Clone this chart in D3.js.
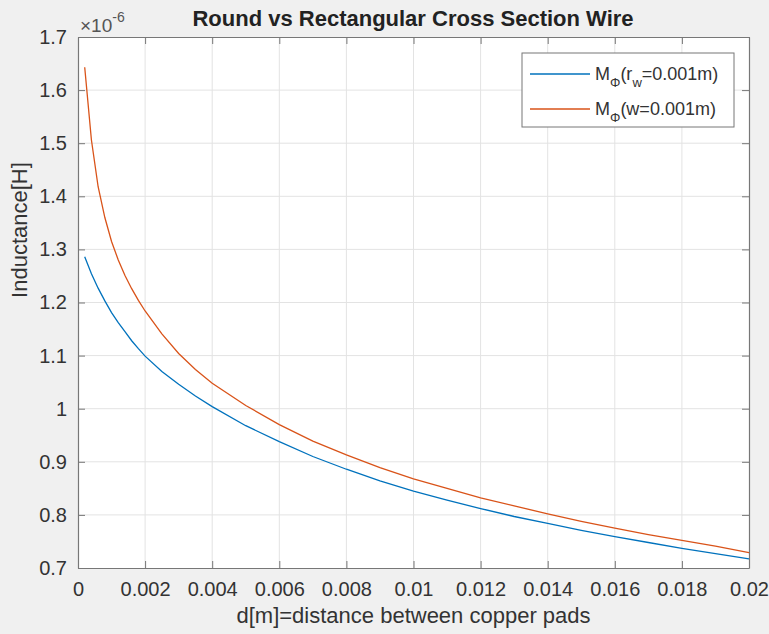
<!DOCTYPE html>
<head>
    <meta charset="utf-8">
    <title>Round vs Rectangular Cross Section Wire</title>
    <script src="https://d3js.org/d3.v7.min.js"></script>
</head>
<body style="margin:0">
    <svg class="chart" width="769" height="634"></svg>
</body>
<script>
// distance between pads [m]
var dist = [0.0002, 0.0004, 0.0006, 0.0008, 0.001, 0.0012, 0.0014, 0.0016, 0.0018, 0.002,
            0.0025, 0.003, 0.0035, 0.004, 0.005, 0.006, 0.007, 0.008, 0.009, 0.01,
            0.011, 0.012, 0.013, 0.014, 0.015, 0.016, 0.017, 0.018, 0.019, 0.02];
// inductance, units of 1e-6 H
var roundWire = [1.286, 1.254, 1.227, 1.203, 1.181, 1.162, 1.145, 1.128, 1.113, 1.099,
                 1.070, 1.046, 1.024, 1.004, 0.968, 0.938, 0.910, 0.886, 0.864, 0.845,
                 0.828, 0.812, 0.797, 0.784, 0.771, 0.759, 0.748, 0.737, 0.727, 0.717];
var rectWire = [1.643, 1.506, 1.418, 1.360, 1.315, 1.280, 1.251, 1.226, 1.204, 1.184,
                1.141, 1.104, 1.074, 1.048, 1.006, 0.970, 0.939, 0.913, 0.889, 0.868,
                0.850, 0.832, 0.817, 0.802, 0.788, 0.775, 0.763, 0.752, 0.741, 0.729];
var xTicks = [0, 0.002, 0.004, 0.006, 0.008, 0.01, 0.012, 0.014, 0.016, 0.018, 0.02];
var yTicks = [0.7, 0.8, 0.9, 1, 1.1, 1.2, 1.3, 1.4, 1.5, 1.6, 1.7];
var seriesNames = ["round", "rect"];

var margin = {top: 37, right: 20, bottom: 66, left: 78};
var W = 769, H = 634;
var font = "'Liberation Sans', Arial, Helvetica, sans-serif";
var textCol = "#333";
var blue = "#0072BD", orange = "#D95319";

var svg = d3.select(".chart").style("background-color", "#f0f0f0");

var x = d3.scaleLinear().domain([0, 0.02]).range([margin.left, W - margin.right]);
var y = d3.scaleLinear().domain([0.7, 1.7]).range([H - margin.bottom, margin.top]);

// plot area
svg.append("rect")
    .attr("x", x(0)).attr("y", y(1.7))
    .attr("width", x(0.02) - x(0)).attr("height", y(0.7) - y(1.7))
    .attr("fill", "white");

// grid
svg.append("g").selectAll("line").data(xTicks.slice(1, -1)).enter().append("line")
    .attr("x1", d => x(d)).attr("x2", d => x(d))
    .attr("y1", y(0.7)).attr("y2", y(1.7))
    .attr("stroke", "#e3e3e3").attr("stroke-width", 1);
svg.append("g").selectAll("line").data(yTicks.slice(1, -1)).enter().append("line")
    .attr("y1", d => y(d)).attr("y2", d => y(d))
    .attr("x1", x(0)).attr("x2", x(0.02))
    .attr("stroke", "#e3e3e3").attr("stroke-width", 1);

// axes (ticks inside, box on)
var tl = 7;
var xAxis = svg.append("g").attr("transform", "translate(0," + y(0.7) + ")")
    .call(d3.axisBottom(x).tickValues(xTicks).tickSizeInner(-tl).tickSizeOuter(0).tickPadding(14).tickFormat(d => d3.format("")(+d.toFixed(3))));
var xTop = svg.append("g").attr("transform", "translate(0," + y(1.7) + ")")
    .call(d3.axisTop(x).tickValues(xTicks).tickSizeInner(-tl).tickSizeOuter(0).tickFormat(""));
var yAxis = svg.append("g").attr("transform", "translate(" + x(0) + ",0)")
    .call(d3.axisLeft(y).tickValues(yTicks).tickSizeInner(-tl).tickSizeOuter(0).tickPadding(11).tickFormat(d => +d.toFixed(1)));
var yRight = svg.append("g").attr("transform", "translate(" + x(0.02) + ",0)")
    .call(d3.axisRight(y).tickValues(yTicks).tickSizeInner(-tl).tickSizeOuter(0).tickFormat(""));

[xAxis, xTop, yAxis, yRight].forEach(function(a) {
    a.selectAll("path").attr("stroke", "#777").attr("stroke-width", 1.2);
    a.selectAll("line").attr("stroke", "#777");
    a.selectAll("text").attr("fill", textCol).style("font-family", font).style("font-size", "20px");
});

// lines
var line = d3.line().x((d, i) => x(dist[i])).y(d => y(d));
svg.append("path").datum(roundWire).attr("d", line)
    .attr("fill", "none").attr("stroke", blue).attr("stroke-width", 1.3);
svg.append("path").datum(rectWire).attr("d", line)
    .attr("fill", "none").attr("stroke", orange).attr("stroke-width", 1.3);

// title and labels
svg.append("text")
    .attr("x", 413).attr("y", 26)
    .attr("text-anchor", "middle")
    .style("font-family", font).style("font-size", "22px").style("font-weight", "bold")
    .attr("fill", "#222")
    .text("Round vs Rectangular Cross Section Wire");

svg.append("text")
    .attr("x", (x(0) + x(0.02)) / 2).attr("y", 623)
    .attr("text-anchor", "middle")
    .style("font-family", font).style("font-size", "22px")
    .attr("fill", textCol)
    .text("d[m]=distance between copper pads");

svg.append("text")
    .attr("transform", "translate(27,230) rotate(-90)")
    .attr("text-anchor", "middle")
    .style("font-family", font).style("font-size", "22px")
    .attr("fill", textCol)
    .text("Inductance[H]");

// exponent
var ex = svg.append("text")
    .attr("x", 80).attr("y", 32)
    .style("font-family", font).style("font-size", "19px")
    .attr("fill", "#555");
ex.append("tspan").text("\u00d710");
ex.append("tspan").attr("dy", -10).style("font-size", "14px").text("-6");

// legend
var lg = svg.append("g").attr("transform", "translate(522,53)");
lg.append("rect").attr("width", 212).attr("height", 74)
    .attr("fill", "white").attr("stroke", "#777").attr("stroke-width", 1);

var legendRows = [
    {name: seriesNames[0], color: blue, parts: [["M", 0], ["\u03a6", 1], ["(r", 0], ["w", 1], ["=0.001m)", 0]]},
    {name: seriesNames[1], color: orange, parts: [["M", 0], ["\u03a6", 1], ["(w=0.001m)", 0]]}
];
legendRows.forEach(function(r, i) {
    var cy = 21 + i * 35;
    lg.append("line").attr("x1", 8).attr("x2", 68).attr("y1", cy).attr("y2", cy)
        .attr("stroke", r.color).attr("stroke-width", 1.3);
    var t = lg.append("text").attr("x", 73).attr("y", cy + 6)
        .style("font-family", font).style("font-size", "18px").attr("fill", textCol);
    var prevSub = 0;
    r.parts.forEach(function(p) {
        var dy = p[1] - prevSub;
        t.append("tspan").attr("dy", dy * 7)
            .style("font-size", p[1] ? "13px" : "18px")
            .text(p[0]);
        prevSub = p[1];
    });
});
</script>
